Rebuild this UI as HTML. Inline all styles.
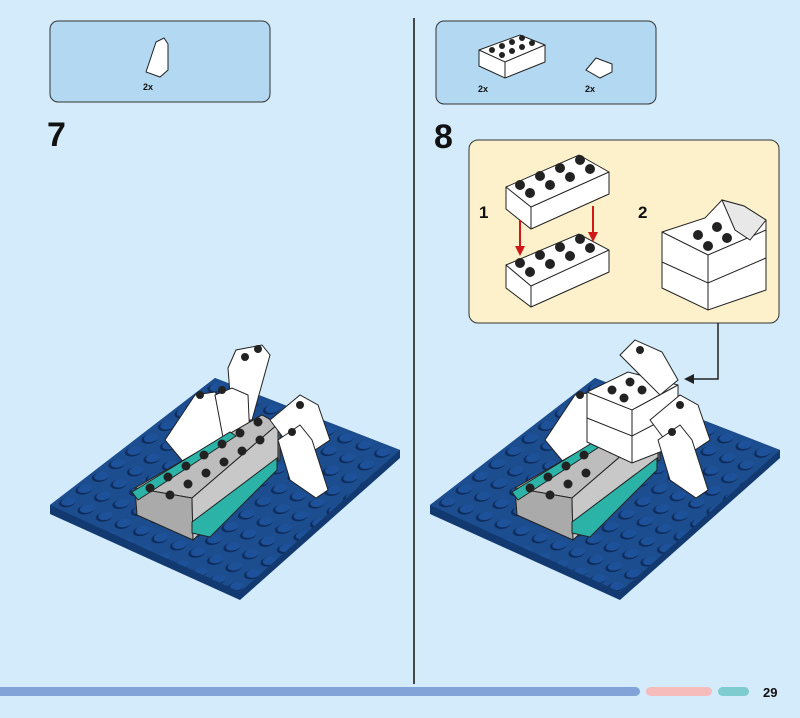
<!DOCTYPE html>
<html><head><meta charset="utf-8"><style>
body{margin:0;width:800px;height:718px;background:#d3ebfa;overflow:hidden;font-family:"Liberation Sans",sans-serif}
</style></head><body>
<svg width="800" height="718" viewBox="0 0 800 718" xmlns="http://www.w3.org/2000/svg" style="position:absolute;left:0;top:0">
<defs>
<pattern id="studL" patternUnits="userSpaceOnUse" width="1" height="1" patternTransform="matrix(18.5 7.2 -16.5 12.7 215 378)">
<rect width="1" height="1" fill="#1c4d8f"/>
<circle cx="0.5" cy="0.52" r="0.33" fill="#0e2c5c"/>
<circle cx="0.5" cy="0.44" r="0.29" fill="#1d5199"/>
</pattern>
<pattern id="studR" patternUnits="userSpaceOnUse" width="1" height="1" patternTransform="matrix(18.5 7.2 -16.5 12.7 595 378)">
<rect width="1" height="1" fill="#1c4d8f"/>
<circle cx="0.5" cy="0.52" r="0.33" fill="#0e2c5c"/>
<circle cx="0.5" cy="0.44" r="0.29" fill="#1d5199"/>
</pattern>
</defs>
<line x1="414" y1="18" x2="414" y2="684" stroke="#111" stroke-width="1.5"/>
<rect x="-10" y="687" width="650" height="9" rx="4.5" fill="#82a3d8"/>
<rect x="646" y="687" width="66" height="9" rx="4.5" fill="#f6bcbc"/>
<rect x="718" y="687" width="31" height="9" rx="4.5" fill="#7ecbd0"/>
<text x="763" y="697" font-size="13" font-weight="bold" fill="#111">29</text>
<rect x="50" y="21" width="220" height="81" rx="8" fill="#b3d8f2" stroke="#333" stroke-width="1"/>
<polygon points="146,72 156,42 164,38 168,44 168,70 160,77" fill="#fff" stroke="#222" stroke-width="1"/>
<text x="143" y="90" font-size="9" font-weight="bold" fill="#111">2x</text>
<rect x="436" y="21" width="220" height="83" rx="8" fill="#b3d8f2" stroke="#333" stroke-width="1"/>
<polygon points="479,50 520,35 545,45 545,62 505,78 479,66" fill="#fff" stroke="#222"/>
<polyline points="479,50 505,62 545,45" fill="none" stroke="#222"/>
<line x1="505" y1="62" x2="505" y2="78" stroke="#222"/>
<g fill="#222"><circle cx="492" cy="50" r="3"/><circle cx="502" cy="46" r="3"/><circle cx="512" cy="42" r="3"/><circle cx="522" cy="38" r="3"/><circle cx="502" cy="55" r="3"/><circle cx="512" cy="51" r="3"/><circle cx="522" cy="47" r="3"/><circle cx="532" cy="43" r="3"/></g>
<polygon points="586,70 596,58 612,64 612,72 600,78" fill="#fff" stroke="#222"/>
<text x="478" y="92" font-size="9" font-weight="bold" fill="#111">2x</text>
<text x="585" y="92" font-size="9" font-weight="bold" fill="#111">2x</text>
<text x="47" y="146" font-size="34" font-weight="bold" fill="#111">7</text>
<text x="434" y="148" font-size="34" font-weight="bold" fill="#111">8</text>
<rect x="469" y="140" width="310" height="183" rx="9" fill="#fcf1cb" stroke="#333"/>
<text x="479" y="218" font-size="17" font-weight="bold" fill="#111">1</text>
<text x="638" y="218" font-size="17" font-weight="bold" fill="#111">2</text>
<g stroke="#222" stroke-width="1">
<polygon points="506,187 579,155 609,172 609,194 531,229 506,209" fill="#fff"/>
<polyline points="506,187 531,207 609,172" fill="none"/><line x1="531" y1="207" x2="531" y2="229"/>
<polygon points="506,265 579,234 609,250 609,272 531,307 506,288" fill="#fff"/>
<polyline points="506,265 531,286 609,250" fill="none"/><line x1="531" y1="286" x2="531" y2="307"/>
<polygon points="662,232 705,218 722,200 744,206 766,220 766,290 708,310 662,288" fill="#fff"/>
<polyline points="662,232 708,255 766,230" fill="none"/>
<polyline points="662,262 708,283 766,258" fill="none"/>
<line x1="708" y1="255" x2="708" y2="310"/>
<polygon points="722,200 744,206 766,220 750,240 735,230" fill="#e8e8e8"/>
</g>
<g fill="#222">
<circle cx="520" cy="185" r="5"/><circle cx="540" cy="176" r="5"/><circle cx="560" cy="168" r="5"/><circle cx="580" cy="160" r="5"/>
<circle cx="530" cy="193" r="5"/><circle cx="550" cy="185" r="5"/><circle cx="570" cy="177" r="5"/><circle cx="590" cy="169" r="5"/>
<circle cx="520" cy="263" r="5"/><circle cx="540" cy="255" r="5"/><circle cx="560" cy="247" r="5"/><circle cx="580" cy="239" r="5"/>
<circle cx="530" cy="272" r="5"/><circle cx="550" cy="264" r="5"/><circle cx="570" cy="256" r="5"/><circle cx="590" cy="248" r="5"/>
<circle cx="698" cy="235" r="5"/><circle cx="717" cy="227" r="5"/><circle cx="708" cy="246" r="5"/><circle cx="727" cy="238" r="5"/>
</g>
<g stroke="#d01818" stroke-width="2" fill="#d01818">
<line x1="520" y1="220" x2="520" y2="252"/><polygon points="515,246 525,246 520,256" stroke="none"/>
<line x1="593" y1="206" x2="593" y2="238"/><polygon points="588,232 598,232 593,242" stroke="none"/>
</g>
<polyline points="718,323 718,379 692,379" fill="none" stroke="#222" stroke-width="1.5"/>
<polygon points="684,379 694,374 694,384" fill="#222"/>
<polygon points="50,505 215,378 400,450 400,458 240,600 50,514" fill="#123a70"/>
<polygon points="50,505 215,378 400,450 240,592" fill="url(#studL)"/>
<polygon points="430,505 595,378 780,450 780,458 620,600 430,514" fill="#123a70"/>
<polygon points="430,505 595,378 780,450 620,592" fill="url(#studR)"/>
<g stroke="#222" stroke-width="1">
<polygon points="228,368 236,350 262,345 270,355 252,420 232,420" fill="#fff"/>
<polygon points="165,440 195,395 215,392 235,420 235,455 190,470" fill="#fff"/>
<polygon points="215,395 232,388 248,395 250,440 225,448" fill="#fff"/>
<polygon points="135,488 262,415 280,425 280,460 193,513" fill="#777"/>
<polygon points="135,488 262,415 278,424 192,498" fill="#bdbdbd"/>
<polygon points="135,488 192,498 193,540 137,515" fill="#aaa"/>
<polygon points="192,498 278,424 278,460 193,540" fill="#c8c8c8"/>
<polygon points="132,492 230,432 236,436 138,500" fill="#2bb3a8"/>
<polygon points="192,522 277,458 277,470 210,537 192,533" fill="#2bb3a8"/>
<polygon points="270,420 300,395 318,405 330,440 300,460" fill="#fff"/>
<polygon points="278,440 300,425 312,440 328,490 316,498 290,480" fill="#fff"/>
</g>
<g fill="#222"><circle cx="150" cy="488" r="4.5"/><circle cx="168" cy="477" r="4.5"/><circle cx="186" cy="466" r="4.5"/><circle cx="204" cy="455" r="4.5"/><circle cx="222" cy="444" r="4.5"/><circle cx="240" cy="433" r="4.5"/><circle cx="258" cy="422" r="4.5"/>
<circle cx="170" cy="495" r="4.5"/><circle cx="188" cy="484" r="4.5"/><circle cx="206" cy="473" r="4.5"/><circle cx="224" cy="462" r="4.5"/><circle cx="242" cy="451" r="4.5"/><circle cx="260" cy="440" r="4.5"/>
<circle cx="245" cy="357" r="4"/><circle cx="258" cy="349" r="4"/><circle cx="300" cy="405" r="4"/><circle cx="292" cy="432" r="4"/><circle cx="200" cy="395" r="4"/><circle cx="222" cy="390" r="4"/></g>
<g stroke="#222" stroke-width="1">
<polygon points="545,440 575,395 595,392 615,420 615,455 570,470" fill="#fff"/>
<polygon points="515,488 642,415 660,425 660,460 573,513" fill="#777"/>
<polygon points="515,488 642,415 658,424 572,498" fill="#bdbdbd"/>
<polygon points="515,488 572,498 573,540 517,515" fill="#aaa"/>
<polygon points="572,498 658,424 658,460 573,540" fill="#c8c8c8"/>
<polygon points="512,492 610,432 616,436 518,500" fill="#2bb3a8"/>
<polygon points="572,522 657,458 657,470 590,537 572,533" fill="#2bb3a8"/>
<polygon points="587,392 628,372 678,385 678,445 632,463 587,442" fill="#fff"/>
<polyline points="587,392 632,410 678,385" fill="none"/><line x1="632" y1="410" x2="632" y2="463"/>
<polyline points="587,418 632,436 678,412" fill="none"/>
<polygon points="620,355 635,340 662,352 678,380 660,395" fill="#fff"/>
<polygon points="650,420 680,395 698,405 710,440 680,460" fill="#fff"/>
<polygon points="658,440 680,425 692,440 708,490 696,498 670,480" fill="#fff"/>
</g>
<g fill="#222"><circle cx="530" cy="488" r="4.5"/><circle cx="548" cy="477" r="4.5"/><circle cx="566" cy="466" r="4.5"/><circle cx="584" cy="455" r="4.5"/><circle cx="550" cy="495" r="4.5"/><circle cx="568" cy="484" r="4.5"/><circle cx="586" cy="473" r="4.5"/>
<circle cx="612" cy="390" r="4.5"/><circle cx="630" cy="382" r="4.5"/><circle cx="624" cy="398" r="4.5"/><circle cx="642" cy="390" r="4.5"/><circle cx="640" cy="350" r="4"/><circle cx="680" cy="405" r="4"/><circle cx="672" cy="432" r="4"/><circle cx="580" cy="395" r="4"/></g>
</svg>
</body></html>
